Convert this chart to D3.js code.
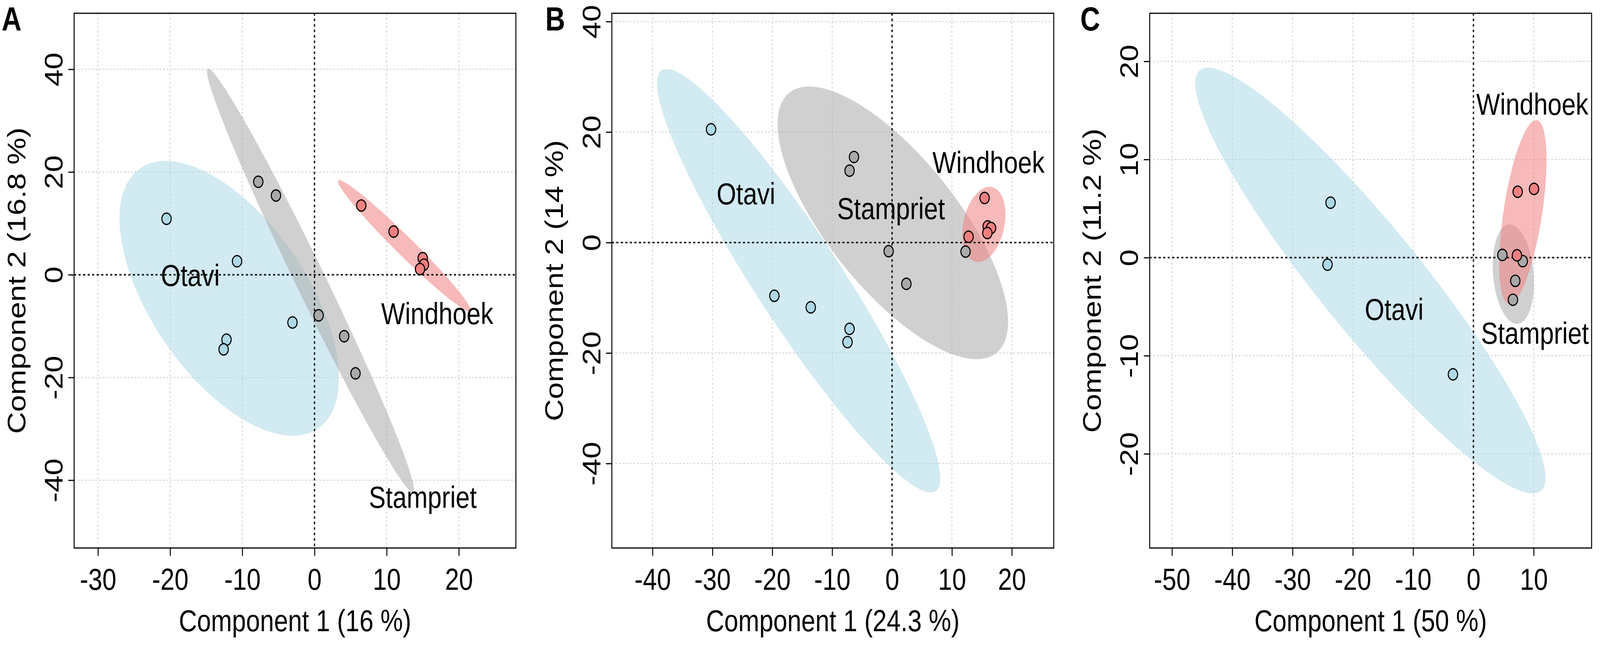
<!DOCTYPE html>
<html>
<head>
<meta charset="utf-8">
<script src="https://cdn.jsdelivr.net/npm/d3@7"></script>
<style>
  html, body { margin: 0; padding: 0; background: #fff; overflow: hidden; }
  svg { display: block; width: 100vw; height: 100vh; font-family: 'Liberation Sans', Arial, sans-serif; }
</style>
</head>
<body>
<svg id="chart"></svg>
<script>
// ---- data ----
const groups = ['Otavi', 'Stampriet', 'Windhoek'];
const panelLetters = ['A', 'B', 'C'];
const xTitles = ['Component 1 (16 %)', 'Component 1 (24.3 %)', 'Component 1 (50 %)'];
const yTitles = ['Component 2 (16.8 %)', 'Component 2 (14 %)', 'Component 2 (11.2 %)'];
const xTicks = [[-30, -20, -10, 0, 10, 20], [-40, -30, -20, -10, 0, 10, 20], [-50, -40, -30, -20, -10, 0, 10]];
const yTicks = [[-40, -20, 0, 20, 40], [-40, -20, 0, 20, 40], [-20, -10, 0, 10, 20]];
const xLimits = [[-33.3, 27.9], [-46.8, 27.0], [-53.7, 19.6]];
const yLimits = [[-53.2, 50.9], [-55.3, 41.5], [-29.6, 24.9]];

// sample scores: [group, component 1, component 2]
const scoresA = [
  ['Otavi', -20.50, 10.89], ['Otavi', -10.73, 2.62], ['Otavi', -3.05, -9.30],
  ['Otavi', -12.19, -12.64], ['Otavi', -12.59, -14.53],
  ['Stampriet', -7.79, 18.10], ['Stampriet', -5.34, 15.42], ['Stampriet', 0.57, -7.91],
  ['Stampriet', 4.11, -11.97], ['Stampriet', 5.68, -19.20],
  ['Windhoek', 6.48, 13.47], ['Windhoek', 10.96, 8.41], ['Windhoek', 14.99, 3.23],
  ['Windhoek', 15.16, 1.95], ['Windhoek', 14.62, 1.11]
];
const scoresB = [
  ['Otavi', -30.23, 20.49], ['Otavi', -19.66, -9.64], ['Otavi', -13.58, -11.74],
  ['Otavi', -7.10, -15.63], ['Otavi', -7.44, -18.02],
  ['Stampriet', -6.36, 15.48], ['Stampriet', -7.10, 13.01], ['Stampriet', -0.57, -1.57],
  ['Stampriet', 2.39, -7.48], ['Stampriet', 12.27, -1.64],
  ['Windhoek', 15.45, 8.07], ['Windhoek', 12.78, 1.05], ['Windhoek', 15.97, 2.92],
  ['Windhoek', 16.53, 2.62], ['Windhoek', 15.91, 1.72]
];
const scoresC = [
  ['Otavi', -23.70, 5.60], ['Otavi', -24.20, -0.72], ['Otavi', -3.40, -11.90],
  ['Stampriet', 4.80, 0.27], ['Stampriet', 8.18, -0.36], ['Stampriet', 6.94, -2.37],
  ['Stampriet', 6.55, -4.30],
  ['Windhoek', 7.34, 6.71], ['Windhoek', 10.05, 7.00], ['Windhoek', 7.22, 0.23]
];

// group name annotations: [group, x centre, baseline y] in data units
const labelsA = [['Otavi', -17.2, -2.2], ['Windhoek', 17.0, -9.6], ['Stampriet', 15.0, -45.4]];
const labelsB = [['Otavi', -24.4, 6.95], ['Stampriet', -0.17, 4.26], ['Windhoek', 16.1, 12.6]];
const labelsC = [['Otavi', -13.15, -6.37], ['Windhoek', 9.76, 14.53], ['Stampriet', 10.2, -8.77]];

const scores = [scoresA, scoresB, scoresC];
const labels = [labelsA, labelsB, labelsC];

// ---- layout / style ----
const W = 4953, H = 1659;
const boxTop = 34, boxBottom = 1403;
const boxes = [[229.5, 1597], [1894, 3262], [3559, 4927]];
const letterX = [5, 1688, 3344];
const fontSize = 78;
const color = d3.scaleOrdinal().domain(groups).range(['#add8e6', '#a9a9a9', '#f08080']);

// drawn in a 4953x1659 frame that is stretched to whatever the window is
const svg = d3.select('#chart')
  .attr('viewBox', `0 0 ${W} ${H}`)
  .attr('preserveAspectRatio', 'none');
svg.append('rect').attr('width', W).attr('height', H).attr('fill', '#fff');

// 95% confidence ellipse, same construction as the R 'ellipse' package
function confEllipse(pts) {
  const n = pts.length;
  const mx = d3.mean(pts, p => p[1]), my = d3.mean(pts, p => p[2]);
  const sx = d3.deviation(pts, p => p[1]), sy = d3.deviation(pts, p => p[2]);
  const cov = d3.sum(pts, p => (p[1] - mx) * (p[2] - my)) / (n - 1);
  const r = cov / (sx * sy);
  const t = Math.sqrt(-2 * Math.log(0.05));
  const d = Math.acos(r);
  return d3.range(0, 200).map(i => {
    const a = i / 200 * 2 * Math.PI;
    return [t * sx * Math.cos(a + d / 2) + mx, t * sy * Math.cos(a - d / 2) + my];
  });
}

panelLetters.forEach((letter, i) => {
  const [left, right] = boxes[i];
  const x = d3.scaleLinear().domain(xLimits[i]).range([left, right]);
  const y = d3.scaleLinear().domain(yLimits[i]).range([boxBottom, boxTop]);
  const g = svg.append('g').attr('class', 'panel-' + letter);

  // grid
  g.append('g').selectAll('line.vgrid')
    .data(xTicks[i]).join('line')
    .attr('x1', d => x(d)).attr('x2', d => x(d))
    .attr('y1', boxTop).attr('y2', boxBottom)
    .attr('stroke', '#cfcfcf').attr('stroke-width', 2.5).attr('stroke-dasharray', '5,6');
  g.append('g').selectAll('line.hgrid')
    .data(yTicks[i]).join('line')
    .attr('x1', left).attr('x2', right)
    .attr('y1', d => y(d)).attr('y2', d => y(d))
    .attr('stroke', '#cfcfcf').attr('stroke-width', 2.5).attr('stroke-dasharray', '5,6');

  // ellipses
  const line = d3.line().x(d => x(d[0])).y(d => y(d[1])).curve(d3.curveLinearClosed);
  g.append('g').selectAll('path')
    .data(groups).join('path')
    .attr('d', grp => line(confEllipse(scores[i].filter(p => p[0] === grp))))
    .attr('fill', grp => color(grp))
    .attr('fill-opacity', 0.55);

  // zero lines
  g.append('line')
    .attr('x1', x(0)).attr('x2', x(0)).attr('y1', boxTop).attr('y2', boxBottom)
    .attr('stroke', '#000').attr('stroke-width', 4).attr('stroke-dasharray', '6,8');
  g.append('line')
    .attr('x1', left).attr('x2', right).attr('y1', y(0)).attr('y2', y(0))
    .attr('stroke', '#000').attr('stroke-width', 4).attr('stroke-dasharray', '6,8');

  // points
  g.append('g').selectAll('circle')
    .data(scores[i]).join('circle')
    .attr('cx', d => x(d[1])).attr('cy', d => y(d[2]))
    .attr('r', 14.5)
    .attr('fill', d => color(d[0]))
    .attr('stroke', '#000').attr('stroke-width', 3.2);

  // group names
  g.append('g').selectAll('text')
    .data(labels[i]).join('text')
    .attr('x', d => x(d[1])).attr('y', d => y(d[2]))
    .attr('text-anchor', 'middle')
    .attr('font-size', fontSize)
    .text(d => d[0]);

  // axes
  const xAxis = g.append('g')
    .attr('transform', `translate(0,${boxBottom})`)
    .call(d3.axisBottom(x).tickValues(xTicks[i]).tickSize(20).tickPadding(32).tickFormat(d => String(d)));
  const yAxis = g.append('g')
    .attr('transform', `translate(${left},0)`)
    .call(d3.axisLeft(y).tickValues(yTicks[i]).tickSize(18).tickFormat(d => String(d)));
  [xAxis, yAxis].forEach(ax => {
    ax.attr('font-size', fontSize).attr('font-family', null);
    ax.select('.domain').remove();
    ax.selectAll('.tick line').attr('stroke-width', 3);
    ax.selectAll('.tick text').attr('fill', '#000');
  });
  yAxis.selectAll('.tick text')
    .attr('x', 0).attr('dy', null)
    .attr('text-anchor', 'middle')
    .attr('transform', 'translate(-36,0) rotate(-90)');

  // frame
  g.append('rect')
    .attr('x', left).attr('y', boxTop)
    .attr('width', right - left).attr('height', boxBottom - boxTop)
    .attr('fill', 'none').attr('stroke', '#000').attr('stroke-width', 3);

  // axis titles
  g.append('text')
    .attr('x', (left + right) / 2).attr('y', boxBottom + 213)
    .attr('text-anchor', 'middle').attr('font-size', fontSize)
    .text(xTitles[i]);
  g.append('text')
    .attr('transform', `translate(${left - 151},${(boxTop + boxBottom) / 2}) rotate(-90)`)
    .attr('text-anchor', 'middle').attr('font-size', fontSize)
    .text(yTitles[i]);

  // panel letter
  g.append('text')
    .attr('x', letterX[i]).attr('y', 78)
    .attr('font-size', 85).attr('font-weight', 'bold')
    .text(letter);
});
</script>
</body>
</html>
